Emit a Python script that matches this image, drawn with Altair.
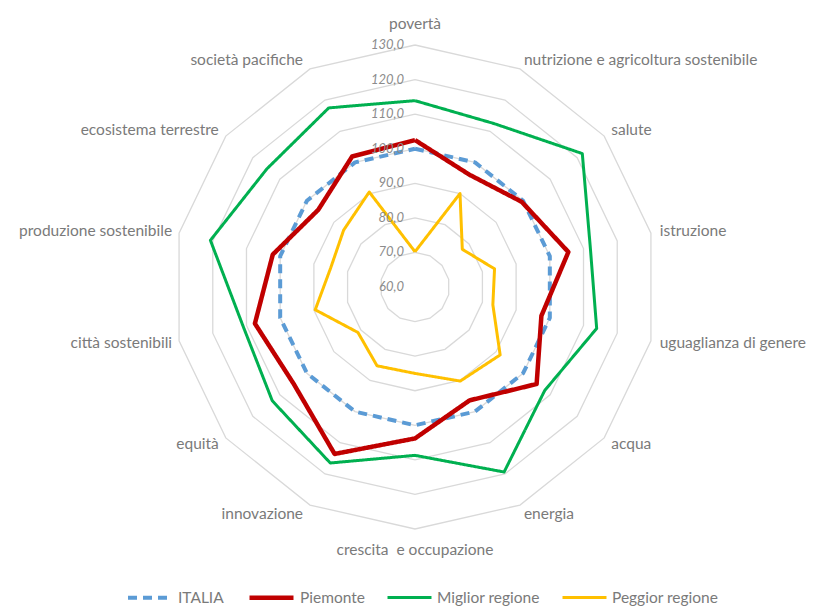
import altair as alt
import pandas as pd
import numpy as np

# ---------------- data ----------------
categories = ["povertà", "nutrizione e agricoltura sostenibile", "salute", "istruzione",
              "uguaglianza di genere", "acqua", "energia", "crescita  e occupazione",
              "innovazione", "equità", "città sostenibili", "produzione sostenibile",
              "ecosistema terrestre", "società pacifiche"]
series_names = ["ITALIA", "Piemonte", "Miglior regione", "Peggior regione"]
italia = [100.0, 100.0, 100.0, 100.0, 100.0, 100.0, 100.0, 100.0, 100.0, 100.0, 100.0, 100.0, 100.0, 100.0]
piemonte = [102.5, 96.1, 99.5, 105.5, 97.5, 105.0, 96.4, 103.8, 113.6, 104.9, 107.5, 102.2, 95.8, 101.9]
miglior = [113.9, 112.5, 121.9, 112.0, 113.9, 108.0, 119.4, 108.7, 116.5, 112.8, 111.0, 120.7, 114.8, 117.5]
peggior = [70.2, 90.0, 77.5, 83.6, 83.1, 91.5, 90.2, 85.0, 85.3, 81.1, 89.6, 85.0, 86.4, 90.5]
ticks = [60, 70, 80, 90, 100, 110, 120, 130]

# ---------------- layout constants ----------------
R_MIN, R_MAX = 60, 130
PX = 242 / (R_MAX - R_MIN)          # pixels per unit
W, H = 800, 599
CX, CY = 407, 279                   # centre in plot pixels
xdom = [-CX / PX, (W - CX) / PX]
ydom = [-(H - CY) / PX, CY / PX]
colors = ["#5B9BD5", "#C00000", "#00B050", "#FFC000"]
widths = [4, 4.5, 3, 3]
dashes = [[9, 6], [1, 0], [1, 0], [1, 0]]
FONT = "Lato"
LABEL_COLOR = "#7A7A7A"

n = len(categories)
ang = np.arange(n) * 2 * np.pi / n

def xy(v, a):
    r = v - R_MIN
    return r * np.sin(a), r * np.cos(a)

# series table
rows = []
for name, vals in zip(series_names, [italia, piemonte, miglior, peggior]):
    for i in range(n + 1):
        k = i % n
        x, y = xy(vals[k], ang[k])
        rows.append({"series": name, "idx": i, "x": x, "y": y, "cat": categories[k], "val": vals[k]})
df = pd.DataFrame(rows)

# grid rings
grows = []
for t in ticks[1:]:
    for i in range(n + 1):
        k = i % n
        x, y = xy(t, ang[k])
        grows.append({"ring": t, "idx": i, "x": x, "y": y})
gdf = pd.DataFrame(grows)

# tick labels
tdf = pd.DataFrame({"t": ticks, "x": [0.0] * len(ticks), "y": [t - R_MIN for t in ticks],
                    "lab": [f"{t:.1f}".replace(".", ",") for t in ticks]})

# category labels
lrows = []
for k, c in enumerate(categories):
    s, co = np.sin(ang[k]), np.cos(ang[k])
    vx, vy = (R_MAX - R_MIN) * s, (R_MAX - R_MIN) * co
    if abs(s) < 0.1:
        al = "center"
        dxp, dyp = 0, 21 * co
    elif s > 0:
        al = "left"
        dxp, dyp = 9 * s, 9.5 * co
    else:
        al = "right"
        dxp, dyp = -7, 9.5 * co
    lrows.append({"cat": c.replace("  ", "\u00a0 "), "x": vx + dxp / PX, "y": vy + dyp / PX, "al": al})
ldf = pd.DataFrame(lrows)

X = alt.X("x:Q", axis=None, scale=alt.Scale(domain=xdom, nice=False, zero=False))
Y = alt.Y("y:Q", axis=None, scale=alt.Scale(domain=ydom, nice=False, zero=False))

grid = alt.Chart(gdf).mark_line(color="#D9D9D9", strokeWidth=1.3).encode(
    x=X, y=Y, detail="ring:N", order="idx:Q")

lines = alt.Chart(df).mark_line(strokeJoin="round", strokeCap="butt").encode(
    x=X, y=Y, order="idx:Q",
    color=alt.Color("series:N", title=None,
                    scale=alt.Scale(domain=series_names, range=colors),
                    legend=alt.Legend(orient="none", legendX=118, legendY=565,
                                      direction="horizontal", symbolType="stroke",
                                      symbolSize=1936, labelFont=FONT, labelFontSize=15.5,
                                      labelColor=LABEL_COLOR, labelOffset=4,
                                      columnPadding=16, padding=0)),
    strokeDash=alt.StrokeDash("series:N", title=None,
                              scale=alt.Scale(domain=series_names, range=dashes)),
    strokeWidth=alt.StrokeWidth("series:N", title=None,
                                scale=alt.Scale(type="ordinal", domain=series_names, range=widths)),
)

tick_text = alt.Chart(tdf).mark_text(align="right", baseline="middle", dx=-11,
                                     font=FONT, fontSize=13, fontStyle="italic",
                                     color="#8C8C8C").encode(x=X, y=Y, text="lab:N")

cat_layers = []
for al in ["left", "right", "center"]:
    cat_layers.append(
        alt.Chart(ldf).transform_filter(alt.datum.al == al).mark_text(
            align=al, baseline="middle", font=FONT, fontSize=15.5, color=LABEL_COLOR
        ).encode(x=X, y=Y, text="cat:N"))

chart = alt.layer(grid, lines, tick_text, *cat_layers).properties(
    width=W, height=H, padding=0, autosize=alt.AutoSizeParams(type="none")
).configure_view(stroke=None)

chart.save("out.html", embed_options={"renderer": "svg", "actions": False})
